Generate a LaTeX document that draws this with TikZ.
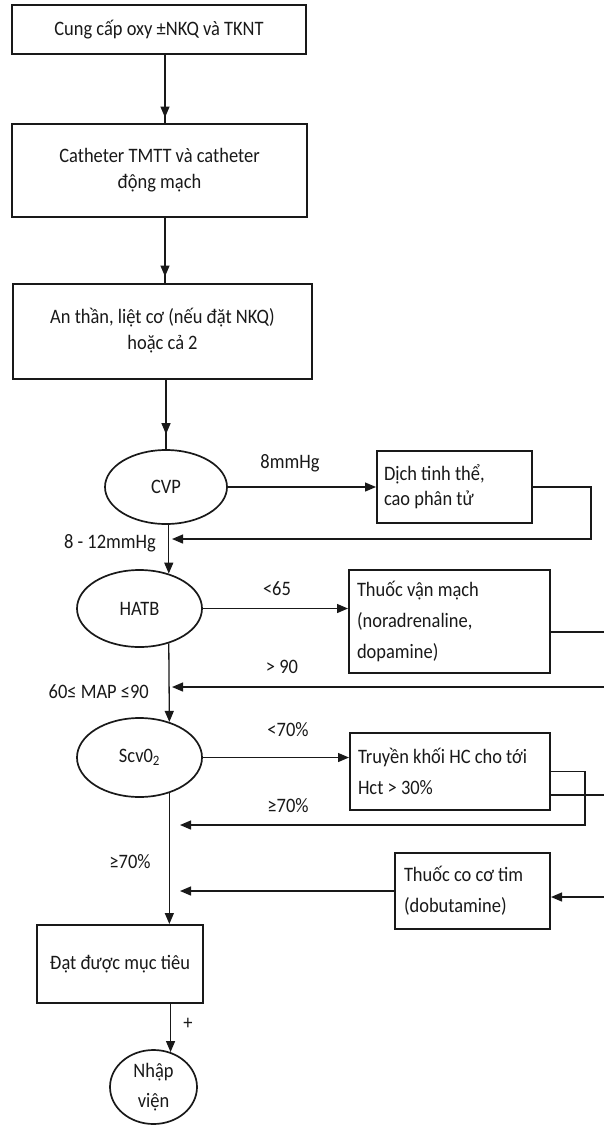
\documentclass[tikz,border=0pt]{standalone}
\usepackage{fontspec}
\setmainfont{Carlito}[FakeStretch=0.9]
\usetikzlibrary{arrows.meta,shapes.geometric,calc}

\begin{document}
\begin{tikzpicture}[x=1pt,y=-1pt,
  ink/.style={draw=black!90, text=black!90},
  box/.style={ink, rectangle, line width=2pt, inner sep=0pt, align=center,
    font=\fontsize{20.5}{26}\selectfont},
  sidebox/.style={ink, rectangle, line width=2pt, inner ysep=0pt, align=flush left,
    font=\fontsize{20.5}{31}\selectfont},
  oval/.style={ink, ellipse, line width=1.7pt, inner sep=0pt,
    font=\fontsize{20.5}{30}\selectfont},
  conn/.style={draw=black!90, line width=1.3pt},
  arr/.style={-{Triangle[length=11pt,width=9pt]}},
  lab/.style={inner sep=0pt, text=black!90, font=\fontsize{20.5}{24}\selectfont}
]
\useasboundingbox[fill=white] (0,0) rectangle (604,1125);

% main column
\node[box, minimum width=294pt, minimum height=49pt] (b1) at (159,29.5)
  {Cung cấp oxy ±NKQ và TKNT};
\node[box, minimum width=295pt, minimum height=93pt] (b2) at (159.5,170)
  {Catheter TMTT và catheter\\động mạch};
\node[box, minimum width=299pt, minimum height=95pt] (b3) at (162.5,331)
  {An thần, liệt cơ (nếu đặt NKQ)\\hoặc cả 2};
\node[oval, minimum width=122pt, minimum height=74pt] (cvp) at (166,487) {CVP};
\node[oval, minimum width=125pt, minimum height=77pt] (hatb) at (139.5,608.5) {HATB};
\node[oval, minimum width=125pt, minimum height=79pt] (scvo) at (139.5,757.5)
  {Scv0\textsubscript{2}};
\node[box, minimum width=166pt, minimum height=78pt] (dat) at (120,964)
  {Đạt được mục tiêu};
\node[oval, minimum width=87pt, minimum height=74pt, align=center,
  font=\fontsize{20.5}{30}\selectfont] (nhap) at (153.5,1087) {Nhập\\viện};

% treatment boxes on the right
\node[sidebox, minimum width=155pt, minimum height=72pt, inner xsep=7pt,
  text width=141pt, font=\fontsize{20.5}{25}\selectfont] (dich) at (454.5,487)
  {Dịch tinh thể,\\cao phân tử};
\node[sidebox, minimum width=201pt, minimum height=103pt, inner xsep=8pt,
  text width=185pt] (vanmach) at (449.5,621.5)
  {Thuốc vận mạch\\(noradrenaline,\\dopamine)};
\node[sidebox, minimum width=200pt, minimum height=77pt, inner xsep=8pt,
  text width=184pt] (truyen) at (450,771.5)
  {Truyền khối HC cho tới\\Hct > 30\%};
\node[sidebox, minimum width=155pt, minimum height=76pt, inner xsep=9pt,
  text width=137pt] (coco) at (472.5,891)
  {Thuốc co cơ tim\\(dobutamine)};

% loose ends and junctions
\coordinate (s1) at (165,0);
\coordinate (j1) at (172,539);
\coordinate (e1) at (604,632);
\coordinate (e2) at (604,687);
\coordinate (j2) at (172,687);
\coordinate (k1) at (585,825);
\coordinate (j3) at (180,825);
\coordinate (e3) at (604,795);
\coordinate (j4) at (180,889);
\coordinate (e4) at (604,897);

% main column connectors
\draw[conn] (b1.south -| s1) -- (b2.north -| s1);
\draw[conn, arr, shorten >=5pt] (b1.south -| s1) -- (b2.north -| s1);
\draw[conn] (b2.south -| s1) -- (b3.north -| s1);
\draw[conn, arr, shorten >=6pt] (b2.south -| s1) -- (b3.north -| s1);
\draw[conn] (b3.south -| cvp.south) -- (cvp.north);
\draw[conn, arr, shorten >=15pt] (b3.south -| cvp.south) -- (cvp.north);
\draw[conn, arr] (cvp.south -| hatb.50) -- (hatb.50);
\draw[conn, arr] (hatb.-50) -- (scvo.50);
\draw[conn, arr] (scvo.-50) -- (scvo.-50 |- dat.north);
\draw[conn, arr] (dat.south -| nhap.64) -- (nhap.64);

% branches to the treatments
\draw[conn, arr] (cvp.east) -- (cvp.east -| dich.west);
\draw[conn, arr] (hatb.east) -- (hatb.east -| vanmach.west);
\draw[conn, arr] (scvo.east) -- (scvo.east -| truyen.west);

% returns to the main column
\draw[conn, arr] (dich.east) -- ++(58,0) |- (j1);
\draw[conn] (vanmach.east |- e1) -- (e1);
\draw[conn, arr] (e2) -- (j2);
\draw[conn, arr] (truyen.east) -| (k1) -- (j3);
\draw[conn] (truyen.east |- e3) -- (e3);
\draw[conn, arr] (coco.west) -- (coco.west -| j4);
\draw[conn, arr] (e4) -- (e4 -| coco.east);

% branch labels
\node[lab] (l1) at (290,463) {8mmHg};
\node[lab, anchor=east] (l2) at (156,543) {8 - 12mmHg};
\node[lab] (l3) at (277,589) {<65};
\node[lab] (l4) at (282,667) {> 90};
\node[lab, anchor=east] (l5) at (149,692) {60≤ MAP ≤90};
\node[lab] (l6) at (288,730) {<70\%};
\node[lab] (l7) at (288,806) {≥70\%};
\node[lab] (l8) at (130,862) {≥70\%};
\node[lab] (l9) at (188,1024) {+};
\end{tikzpicture}
\end{document}
